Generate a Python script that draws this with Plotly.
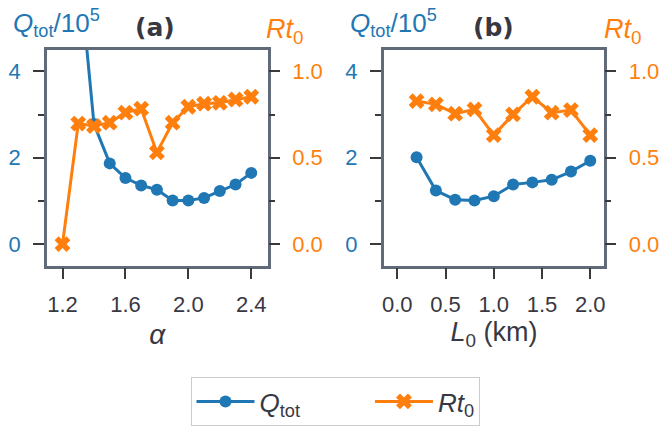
import plotly.graph_objects as go

# ---- data ----
alpha = [1.2, 1.3, 1.4, 1.5, 1.6, 1.7, 1.8, 1.9, 2.0, 2.1, 2.2, 2.3, 2.4]
q_alpha = [10.0, 6.6, 2.78, 1.87, 1.53, 1.36, 1.26, 1.01, 1.01, 1.07, 1.23, 1.38, 1.65]
rt_alpha = [0.0, 0.698, 0.684, 0.703, 0.761, 0.784, 0.531, 0.703, 0.795, 0.813, 0.818, 0.837, 0.853]

L0 = [0.2, 0.4, 0.6, 0.8, 1.0, 1.2, 1.4, 1.6, 1.8, 2.0]
q_L0 = [2.01, 1.24, 1.03, 1.01, 1.11, 1.38, 1.43, 1.49, 1.68, 1.93]
rt_L0 = [0.828, 0.809, 0.755, 0.780, 0.631, 0.751, 0.853, 0.761, 0.776, 0.631]

xticks_a = [1.2, 1.6, 2.0, 2.4]
xticks_b = [0.0, 0.5, 1.0, 1.5, 2.0]
qticks = [0, 2, 4]
rtticks = [0.0, 0.5, 1.0]

BLUE = "#1f77b4"
ORANGE = "#ff7f0e"
SPINE = "#606a78"
TICK = "#3a3a3a"
TEXT = "#383842"
W, H = 664, 426
FONT = "Liberation Sans, Arial, sans-serif"
PAD = "\u00a0" * 9

fig = go.Figure()

def add_pair(x, q, rt, xa, ya_q, ya_rt, show):
    fig.add_trace(go.Scatter(x=x, y=q, xaxis=xa, yaxis=ya_q, mode="lines+markers",
                             name="<i>Q</i><sub>tot</sub>" + PAD, legendgroup="q", showlegend=show,
                             line=dict(color=BLUE, width=3),
                             marker=dict(symbol="circle", size=12, color=BLUE)))
    fig.add_trace(go.Scatter(x=x, y=rt, xaxis=xa, yaxis=ya_rt, mode="lines+markers",
                             name="<i>Rt</i><sub>0</sub>", legendgroup="rt", showlegend=show,
                             line=dict(color=ORANGE, width=3),
                             marker=dict(symbol="x", size=14, color=ORANGE)))

add_pair(alpha, q_alpha, rt_alpha, "x", "y", "y2", True)
add_pair(L0, q_L0, rt_L0, "x2", "y3", "y4", False)

def px_x(p):
    return p / W

def px_y(p):
    return 1 - p / H

ydom = [px_y(267), px_y(50)]
xdom_a = [px_x(45), px_x(267)]
xdom_b = [px_x(383.5), px_x(605)]

common_x = dict(showline=True, linecolor=SPINE, linewidth=2.5, mirror=True,
                ticks="outside", ticklen=11, tickwidth=1.6, tickcolor=TICK,
                showgrid=False, zeroline=False, ticklabelstandoff=6,
                tickfont=dict(family=FONT, size=22, color=TEXT))
common_y = dict(showgrid=False, zeroline=False, ticks="outside", ticklen=11,
                tickwidth=1.6, tickcolor=TICK, ticklabelstandoff=8)

def qaxis(xa):
    return dict(common_y, domain=ydom, anchor=xa, range=[-0.5, 4.5],
                tickvals=qticks, ticktext=[str(v) for v in qticks],
                showline=True, linecolor=SPINE, linewidth=2.5, mirror=True,
                tickfont=dict(family=FONT, size=22, color=BLUE),
                minor=dict(dtick=1, tick0=0, ticks="outside", ticklen=6, tickwidth=1.6, tickcolor=TICK))

def rtaxis(xa, over):
    return dict(common_y, overlaying=over, side="right", anchor=xa, range=[-0.125, 1.125],
                tickvals=rtticks, ticktext=[f"{v:.1f}" for v in rtticks], showline=False,
                tickfont=dict(family=FONT, size=22, color=ORANGE),
                minor=dict(dtick=0.25, tick0=0, ticks="outside", ticklen=6, tickwidth=1.6, tickcolor=TICK))

fig.update_layout(
    width=W, height=H,
    margin=dict(l=0, r=0, t=0, b=0),
    paper_bgcolor="white", plot_bgcolor="white",
    font=dict(family=FONT, color=TEXT),
    xaxis=dict(common_x, domain=xdom_a, anchor="y", range=[1.1, 2.505],
               tickvals=xticks_a, ticktext=[f"{v:.1f}" for v in xticks_a],
               title=dict(text="<i>α</i>", font=dict(family=FONT, size=28, color=TEXT), standoff=9)),
    xaxis2=dict(common_x, domain=xdom_b, anchor="y3", range=[-0.14, 2.145],
                tickvals=xticks_b, ticktext=[f"{v:.1f}" for v in xticks_b],
                title=dict(text="<i>L</i><sub>0</sub> (km)", font=dict(family=FONT, size=27, color=TEXT), standoff=6)),
    yaxis=qaxis("x"),
    yaxis2=rtaxis("x", "y"),
    yaxis3=qaxis("x2"),
    yaxis4=rtaxis("x2", "y3"),
    legend=dict(orientation="h", x=px_x(335.5), xanchor="center", y=px_y(379), yanchor="top",
                bordercolor="#cccccc", borderwidth=1, bgcolor="white",
                font=dict(family=FONT, size=26, color=TEXT),
                itemwidth=58, tracegroupgap=0),
    showlegend=True,
)

annots = []
for xl, xc, xr, lab in [(9, 154, 263, "(a)"), (348, 494, 603, "(b)")]:
    annots.append(dict(text="<i>Q</i><sub>tot</sub>/10<sup>5</sup>", x=px_x(xl), y=px_y(23),
                       xref="paper", yref="paper", xanchor="left", yanchor="middle", showarrow=False,
                       font=dict(family=FONT, size=26, color=BLUE)))
    annots.append(dict(text=f"<b>{lab}</b>", x=px_x(xc), y=px_y(28), xref="paper", yref="paper",
                       xanchor="center", yanchor="middle", showarrow=False,
                       font=dict(family="DejaVu Sans", size=25, color=TEXT)))
    annots.append(dict(text="<i>Rt</i><sub>0</sub>", x=px_x(xr), y=px_y(31), xref="paper", yref="paper",
                       xanchor="left", yanchor="middle", showarrow=False,
                       font=dict(family=FONT, size=27, color=ORANGE)))
fig.update_layout(annotations=annots)

fig.write_html("out.html")
